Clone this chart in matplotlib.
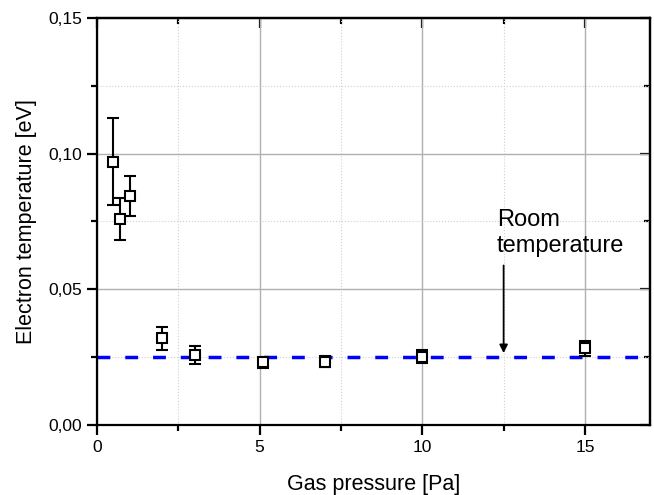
import matplotlib.pyplot as plt
from matplotlib.ticker import FuncFormatter, MultipleLocator

plt.rcParams['font.family'] = ['Liberation Sans', 'DejaVu Sans']

pressure = [0.5, 0.7, 1.0, 2.0, 3.0, 5.1, 7.0, 10.0, 15.0]
temperature = [0.097, 0.0759, 0.0844, 0.0319, 0.0257, 0.0231, 0.0233, 0.0252, 0.0283]
temp_err = [0.016, 0.0076, 0.0073, 0.0041, 0.0034, 0.0021, 0.0021, 0.0024, 0.0027]

room_temp = 0.025
x_limits = [0, 17]
y_limits = [0, 0.15]

fig = plt.figure(figsize=(6.54, 4.95), dpi=100)
ax = fig.add_axes([97 / 654, 70 / 495, 553 / 654, 407 / 495])

ax.set_xlim(x_limits)
ax.set_ylim(y_limits)

# grid: solid major, dotted minor
ax.xaxis.set_major_locator(MultipleLocator(5))
ax.xaxis.set_minor_locator(MultipleLocator(2.5))
ax.yaxis.set_major_locator(MultipleLocator(0.05))
ax.yaxis.set_minor_locator(MultipleLocator(0.025))
ax.grid(which='major', color='#b0b0b0', linewidth=1.0, linestyle='-')
ax.grid(which='minor', color='#d0d0d0', linewidth=0.8, linestyle=':')
ax.set_axisbelow(True)

# room temperature reference line
ax.plot(x_limits, [room_temp, room_temp], color='#0000ff', linestyle=(0, (3.7, 4.3)),
        linewidth=2.5, zorder=2)

ax.errorbar(pressure, temperature, yerr=temp_err, fmt='s', markersize=7.5,
            markerfacecolor='white', markeredgecolor='black', markeredgewidth=1.5,
            ecolor='black', elinewidth=1.5, capsize=4, capthick=1.5, zorder=3)

ax.annotate('', xy=(12.5, 0.0265), xytext=(12.5, 0.0588),
            arrowprops=dict(arrowstyle='-|>', color='black', lw=1.3,
                            mutation_scale=12, shrinkA=0, shrinkB=0))
ax.text(12.3, 0.0795, 'Room\ntemperature', fontsize=17, ha='left', va='top',
        linespacing=1.2)

ax.yaxis.set_major_formatter(FuncFormatter(lambda v, p: f'{v:.2f}'.replace('.', ',')))

for s in ax.spines.values():
    s.set_linewidth(1.6)

ax.tick_params(which='both', direction='out', top=False, right=False, labelsize=12.5,
               width=1.6)
ax.tick_params(which='major', length=7)
ax.tick_params(which='minor', length=4)

# inward ticks on the top and right spines
ax2 = ax.secondary_xaxis('top')
ax2.xaxis.set_major_locator(MultipleLocator(5))
ax2.xaxis.set_minor_locator(MultipleLocator(2.5))
ax2.tick_params(which='both', direction='in', labeltop=False, width=1.6)
ax2.tick_params(which='major', length=7)
ax2.tick_params(which='minor', length=4)
ax3 = ax.secondary_yaxis('right')
ax3.yaxis.set_major_locator(MultipleLocator(0.05))
ax3.yaxis.set_minor_locator(MultipleLocator(0.025))
ax3.tick_params(which='both', direction='in', labelright=False, width=1.6)
ax3.tick_params(which='major', length=7)
ax3.tick_params(which='minor', length=4)
ax2.spines['top'].set_linewidth(1.6)
ax3.spines['right'].set_linewidth(1.6)

ax.set_xlabel('Gas pressure [Pa]', fontsize=15.5, labelpad=14)
ax.set_ylabel('Electron temperature [eV]', fontsize=15.5, labelpad=8)

fig.savefig('out.png', dpi=100)
